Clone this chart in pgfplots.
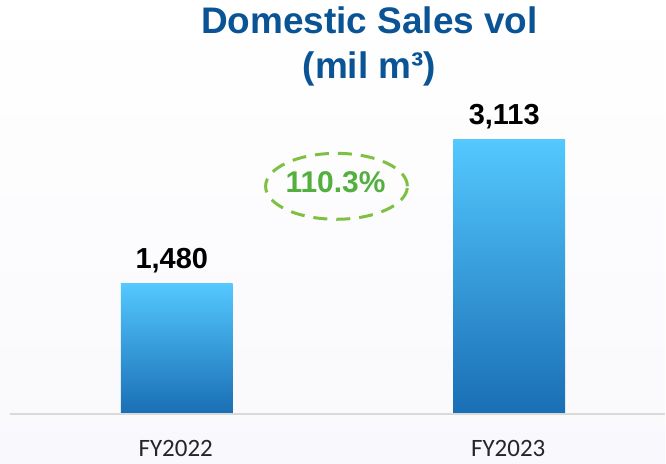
\documentclass[border=0pt]{standalone}
\usepackage{pgfplots}
\pgfplotsset{compat=1.18}
\usepackage{fontspec}
\setmainfont{Liberation Sans}
\newfontfamily\calibri{Carlito}
\definecolor{titleblue}{RGB}{10,84,150}
\definecolor{bartop}{RGB}{84,200,255}
\definecolor{barbot}{RGB}{26,110,180}
\definecolor{pctgreen}{RGB}{84,176,62}
\definecolor{ellgreen}{RGB}{125,192,66}
\definecolor{basegray}{RGB}{217,217,217}
\definecolor{bglav}{RGB}{249,249,253}
\begin{document}
\begin{tikzpicture}[x=1pt,y=1pt]
% background (pixel coords: px -> x, py -> 414-py)
\fill[top color=white, bottom color=bglav] (0,-50) rectangle (666,414);
\begin{axis}[
  at={(0,0)}, anchor=south west,
  scale only axis, width=666pt, height=414pt,
  xmin=-0.53153, xmax=1.46847, ymin=0, ymax=4700,
  axis line style={draw=none},
  major tick length=0pt,
  ytick=\empty,
  xtick={0,1}, xticklabels={FY2022,FY2023},
  xticklabel style={font=\calibri\fontsize{25}{30}\selectfont, anchor=base, yshift=-43pt, xshift=-1pt, text=black!85},
  clip=false,
  /pgf/number format/.cd, 1000 sep={,}, assume math mode=true,
]
\pgfplotsset{mybar/.style={ybar, mark=none, bar width=112pt, bar shift=0pt, draw=none, top color=bartop, bottom color=barbot,
  nodes near coords,
  nodes near coords style={font=\bfseries\fontsize{29}{34}\selectfont, anchor=base, yshift=15pt, xshift=-5pt, text=black}}}
\addplot[mybar] coordinates {(0,1480)};
\addplot[mybar] coordinates {(1,3113)};
\end{axis}
\draw[basegray, line width=2pt] (10,-1) -- (666,-1);
% title
\node[anchor=base, text=titleblue, font=\bfseries\fontsize{37}{44}\selectfont] at (370,381) {Domestic Sales vol};
\node[anchor=base, text=titleblue, font=\bfseries\fontsize{37}{44}\selectfont] at (370,335) {(mil m³)};
% growth ellipse
\draw[ellgreen, line width=3pt, dash pattern=on 14pt off 9pt] (337,227.5) ellipse [x radius=71, y radius=33];
\node[anchor=base, text=pctgreen, font=\bfseries\fontsize{30}{34}\selectfont] at (336,221) {110.3\%};
\end{tikzpicture}
\end{document}
